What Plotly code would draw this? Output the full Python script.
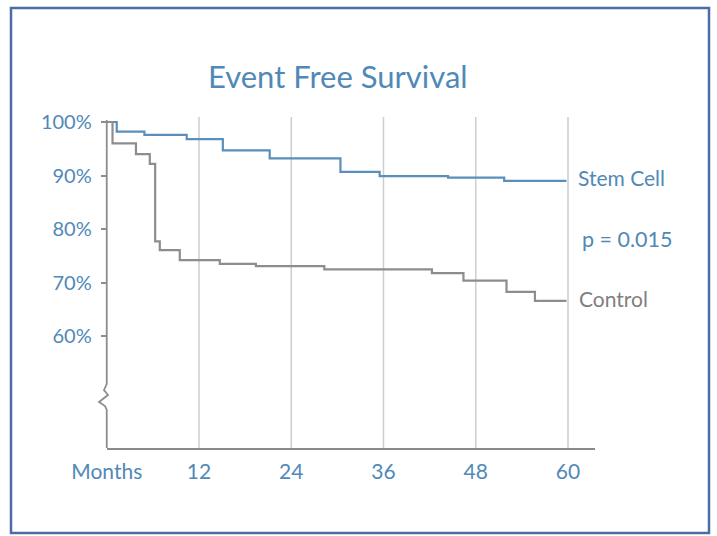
import plotly.graph_objects as go

# ---- data ----
stem_months = [0, 1.3, 4.9, 10.4, 15.1, 21.2, 30.4, 35.5, 44.4, 51.7, 59.8]
stem_pct = [100, 98.2, 97.6, 96.8, 94.7, 93.2, 90.7, 89.9, 89.6, 89.0, 89.0]

ctrl_months = [0, 0.75, 3.8, 5.6, 6.3, 6.9, 9.5, 14.7, 19.4, 28.3, 42.3, 46.4, 52.0, 55.7, 59.8]
ctrl_pct = [100, 96.0, 94.0, 92.2, 77.7, 76.1, 74.2, 73.5, 73.1, 72.5, 71.8, 70.4, 68.3, 66.6, 66.6]

x_ticks = [0, 12, 24, 36, 48, 60]
x_tick_text = ["Months", "12", "24", "36", "48", "60"]
y_ticks = [60, 70, 80, 90, 100]
y_tick_text = ["60%", "70%", "80%", "90%", "100%"]

title = "Event Free Survival"
p_text = "p = 0.015"

W, H = 717, 536
BLUE_TXT = "#5089b7"
BLUE_LINE = "#5b8fbb"
GRAY_LINE = "#8d8d8d"
FONT = "Lato"


def px(x):
    return x / W


def py(y):
    return 1 - y / H


fig = go.Figure()
fig.add_trace(go.Scatter(x=stem_months, y=stem_pct, mode="lines", line_shape="hv",
                         line=dict(color=BLUE_LINE, width=2.2), showlegend=False, name="Stem Cell"))
fig.add_trace(go.Scatter(x=ctrl_months, y=ctrl_pct, mode="lines", line_shape="hv",
                         line=dict(color=GRAY_LINE, width=2.2), showlegend=False, name="Control"))

shapes = []
# vertical grid lines
for t in x_ticks[1:]:
    shapes.append(dict(type="line", xref="x", yref="paper", x0=t, x1=t,
                       y0=py(448), y1=py(117), line=dict(color="#cdcdcd", width=1.5), layer="below"))
# y axis line with break
ax = 106.75
path_pts = [(ax, 120), (ax, 384), (104, 390), (108, 395), (99, 402), (105, 406), (ax, 410), (ax, 448)]
path = "M " + " L ".join(f"{px(a):.5f},{py(b):.5f}" for a, b in path_pts)
shapes.append(dict(type="path", xref="paper", yref="paper", path=path,
                   line=dict(color=GRAY_LINE, width=1.8)))
# frame
shapes.append(dict(type="rect", xref="paper", yref="paper", x0=px(11), x1=px(709),
                   y0=py(533), y1=py(8), line=dict(color="#4a6ea4", width=2.5)))

annotations = [
    dict(text=title, xref="paper", yref="paper", x=px(338), y=py(76), showarrow=False,
         font=dict(family=FONT, size=31, color=BLUE_TXT), xanchor="center", yanchor="middle"),
    dict(text="Stem Cell", xref="paper", yref="paper", x=px(576), y=py(177), showarrow=False,
         font=dict(family=FONT, size=21, color=BLUE_TXT), xanchor="left", yanchor="middle"),
    dict(text=p_text, xref="paper", yref="paper", x=px(580), y=py(239), showarrow=False,
         font=dict(family=FONT, size=21.5, color=BLUE_TXT), xanchor="left", yanchor="middle"),
    dict(text="Control", xref="paper", yref="paper", x=px(577), y=py(298), showarrow=False,
         font=dict(family=FONT, size=21, color="#7f7f7f"), xanchor="left", yanchor="middle"),
]

fig.update_layout(
    width=W, height=H,
    margin=dict(l=0, r=0, t=0, b=0, pad=0, autoexpand=False),
    paper_bgcolor="white", plot_bgcolor="white",
    shapes=shapes, annotations=annotations,
    xaxis=dict(domain=[px(106.75), px(595)], range=[0, (595 - 106.75) / 7.6875],
               tickvals=x_ticks, ticktext=x_tick_text, showgrid=False, zeroline=False,
               showline=True, linecolor="#8a8a8a", linewidth=2, ticks="", automargin=False,
               tickfont=dict(family=FONT, size=21, color=BLUE_TXT), ticklabelstandoff=4),
    yaxis=dict(domain=[py(448), py(117)], range=[100 - (448 - 122) / 5.357, 100 + 5 / 5.357],
               tickvals=y_ticks, ticktext=y_tick_text, showgrid=False, zeroline=False,
               showline=False, ticks="outside", ticklen=5, tickcolor=GRAY_LINE, tickwidth=1.5,
               automargin=False,
               tickfont=dict(family=FONT, size=20, color=BLUE_TXT), ticklabelstandoff=5),
)

fig.write_html("out.html", config={"displayModeBar": False},
               post_script="document.body.style.margin='0';document.body.style.overflow='hidden';")
